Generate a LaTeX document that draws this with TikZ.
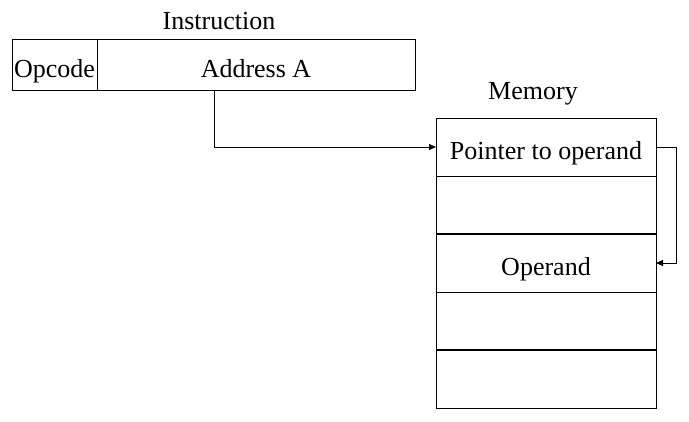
\documentclass[tikz,border=0pt]{standalone}
\usepackage{fontspec}
\setmainfont{Liberation Serif}
\usetikzlibrary{arrows.meta}
\begin{document}
\begin{tikzpicture}[x=1pt,y=-1pt,
    cell/.style={draw, line width=1pt, outer sep=0pt, inner sep=0pt, text height=0.97em, text depth=0pt},
    memcell/.style={cell, minimum width=220pt, minimum height=58pt},
    link/.style={line width=1pt, -{Triangle[length=7pt,width=6pt]}}]
        \useasboundingbox (0,0) rectangle (689,421);
        \fontsize{26}{30}\selectfont
        % instruction word
        \node [cell, minimum width=85pt, minimum height=51pt] (opcode) at (54.5,64.5) {Opcode};
        \node [cell, minimum width=318pt, minimum height=51pt] (address) at (256,64.5) {Address A};
        \node (instr) at (219,21) {Instruction};
        % memory
        \node [memcell] (ptr) at (546,147) {Pointer to operand};
        \node [memcell] (m2) at (546,205) {};
        \node [memcell] (operand) at (546,263) {Operand};
        \node [memcell] (m4) at (546,321) {};
        \node [memcell] (m5) at (546,379) {};
        \draw [line width=1.8pt] (m2.south west) -- (m2.south east);
        \draw [line width=1.8pt] (m4.south west) -- (m4.south east);
        \node (mem) at (533,93.5) {Memory};
        % links
        \draw [link] ([xshift=-42pt]address.south) |- (ptr.west);
        \draw [link] (ptr.east) -- ++(20,0) |- (operand.east);
    \end{tikzpicture}
\end{document}
